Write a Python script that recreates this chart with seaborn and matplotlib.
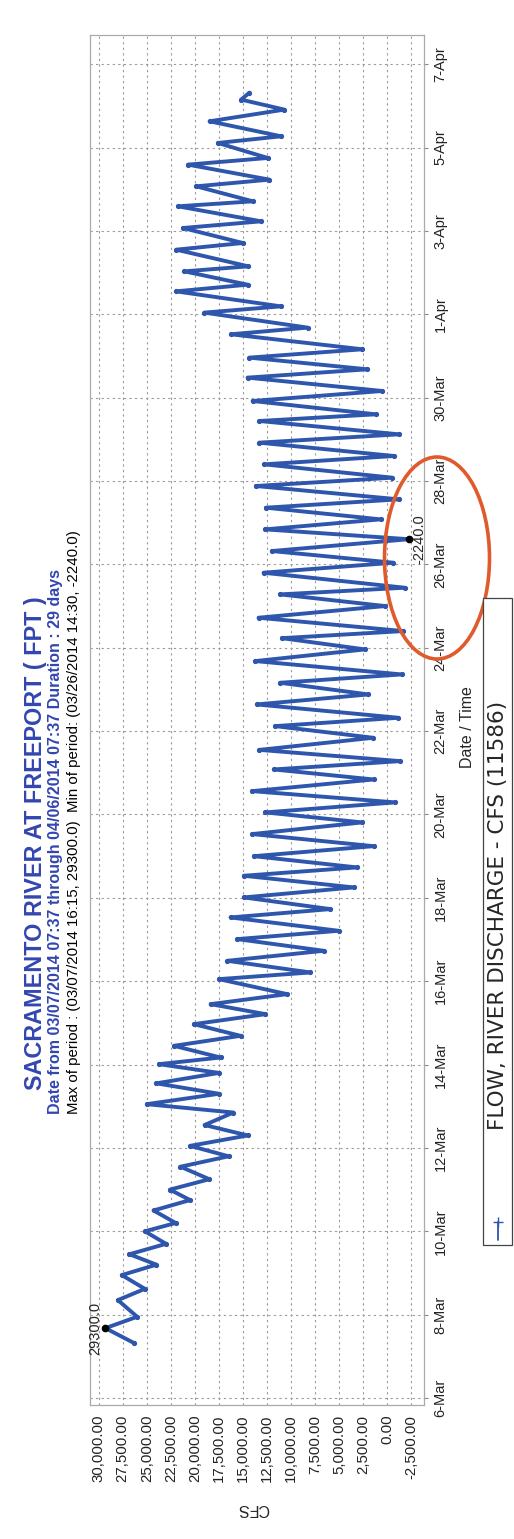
import numpy as np
import pandas as pd
import matplotlib
matplotlib.use("Agg")
import matplotlib.pyplot as plt
from matplotlib.patches import Ellipse, Rectangle
from matplotlib.lines import Line2D
import seaborn as sns

# tidal turning points: days after 06-Mar-2014 00:00, flow in CFS
days = [1.317, 1.677, 1.95, 2.35, 2.62, 2.95, 3.2, 3.45, 3.7, 4.0, 4.2, 4.5, 4.75, 5.0,
        5.25, 5.55, 5.8, 6.05, 6.3, 6.55, 6.85, 7.05, 7.3, 7.55, 7.8,
        8.01, 8.17, 8.45, 8.69, 8.97, 9.21, 9.45, 9.69, 10.05, 10.21, 10.49, 10.73,
        11.01, 11.21, 11.53, 11.73, 12.01, 12.25, 12.53, 12.73, 13.00, 13.24, 13.53,
        13.81, 14.05, 14.29, 14.56, 14.84, 15.08, 15.28, 15.55,
        15.84, 16.12, 16.32, 16.64, 16.88, 17.16, 17.36, 17.68, 17.96, 18.23, 18.40,
        18.72, 19.00, 19.28, 19.44, 19.80, 20.04, 20.32, 20.604, 20.84,
        21.08, 21.36, 21.56, 21.88, 22.08, 22.40, 22.60, 22.92, 23.12, 23.44, 23.60,
        23.92, 24.16, 24.48, 24.68, 24.96, 25.16, 25.52, 25.68, 26.04, 26.19, 26.55,
        26.71, 27.03, 27.15, 27.55, 27.71, 28.07, 28.23, 28.59, 28.71, 29.07, 29.23,
        29.59, 29.75, 30.11, 30.27, 30.63, 30.91, 31.15, 31.317]
flow = [26300, 29300, 26000, 28000, 25200, 27600, 24000, 26800, 23000, 25200, 22000, 24300,
        20500, 22600, 18500, 21500, 16500, 20500, 14500, 19000, 16000, 25000, 17500, 24000,
        17500,
        23740, 17340, 22180, 15260, 20110, 12670, 18370, 10420, 17510, 8000, 16640, 6620,
        15600, 5070, 16300, 5930, 14920, 3510, 14920, 3160, 13880, 1440, 14050,
        2640, 12670, -810, 14050, 1440, 11810, -1330, 13300,
        1470, 11660, -1130, 13570, 1980, 11140, -1470, 13730, 2330, 10970, -1650,
        13390, 250, 11140, -1800, 12870, -610, 12010, -2240, 12700,
        700, 12630, -1200, 13670, -510, 12800, -690, 13310, -1200, 13310, 1220,
        14010, 530, 14530, 2080, 14350, 2600, 16260, 8300, 19020, 11070, 21960,
        14530, 21090, 14450, 21940, 15020, 21240, 13120, 21760, 13980, 19860, 12260,
        20720, 12430, 17610, 11050, 18480, 10710, 15200, 14330]

cfs_ticks = [30000, 27500, 25000, 22500, 20000, 17500, 15000, 12500,
             10000, 7500, 5000, 2500, 0, -2500]
date_ticks = pd.date_range("2014-03-06", "2014-04-07", freq="2D")

blue = "#2f56ad"
title_blue = "#3346b0"

sns.set_style("white")
plt.rcParams['font.family'] = ['Liberation Sans', 'DejaVu Sans']

W, H = 514, 1539
fig = plt.figure(figsize=(W / 100, H / 100), dpi=100)
ax = fig.add_axes([90 / W, 1 - 1405 / H, (424 - 90) / W, (1405 - 35) / H])

t0 = pd.Timestamp("2014-03-06")
df = pd.DataFrame({"flow": flow, "time": t0 + pd.to_timedelta(days, unit="D")})

sns.lineplot(data=df, x="flow", y="time", orient="y", sort=False, estimator=None,
             color=blue, lw=2.8, marker="o", markersize=3, markeredgecolor=blue, ax=ax)
for l in ax.lines:
    l.set_solid_joinstyle("round")

ax.set_xlim(30900, -3800)
ax.set_ylim(t0 - pd.Timedelta(hours=4), t0 + pd.Timedelta(days=32.7))

ax.set_xticks(cfs_ticks)
ax.set_xticklabels([f"{v:,.2f}" for v in cfs_ticks], rotation=90, fontsize=10.8,
                   color="#222222")
ax.yaxis.tick_right()
ax.set_yticks(date_ticks)
ax.set_yticklabels([f"{d.day}-{d:%b}" for d in date_ticks], rotation=90,
                   va="center", fontsize=10.5, color="#222222")
ax.tick_params(length=3, color="#888888", pad=4)
ax.set_xlabel("")
ax.set_ylabel("")
ax.grid(True, ls=(0, (2, 3)), color="#999999", lw=0.8)
for s in ax.spines.values():
    s.set_color("#aaaaaa")
    s.set_linewidth(0.9)

# max / min markers
i_max = int(np.argmax(flow))
i_min = int(np.argmin(flow))
for i, txt, dx in [(i_max, "29300.0", -10), (i_min, "-2240.0", 10)]:
    ax.plot(df["flow"][i], df["time"][i], "o", color="black", ms=4.5)
    ax.annotate(txt, (df["flow"][i], df["time"][i]), xytext=(dx, 0),
                textcoords="offset pixels", rotation=90, ha="center", va="center",
                fontsize=10.5)

# red hand-drawn ellipse
ell = Ellipse((437 / W, 1 - 558 / H), 105 / W, 202 / H, transform=fig.transFigure,
              fill=False, ec="#e05a2b", lw=2.6)
fig.patches.append(ell)

fig.text(36 / W, 1 - 843 / H, "SACRAMENTO RIVER AT FREEPORT ( FPT )", rotation=90,
         ha="center", va="center", fontsize=16.8, fontweight="bold", color=title_blue)
fig.text(56 / W, 1 - 842 / H,
         "Date from 03/07/2014 07:37 through 04/06/2014 07:37 Duration : 29 days",
         rotation=90, ha="center", va="center", fontsize=11.5, fontweight="bold",
         color=title_blue)
fig.text(74 / W, 1 - 822 / H,
         "Max of period : (03/07/2014 16:15, 29300.0)  Min of period: (03/26/2014 14:30, -2240.0)",
         rotation=90, ha="center", va="center", fontsize=10.8, color="black")

fig.text(253 / W, 1 - 1508 / H, "CFS", rotation=180, ha="center", va="center",
         fontsize=11.5)
fig.text(467 / W, 1 - 727 / H, "Date / Time", rotation=90, ha="center", va="center",
         fontsize=11.5)

# legend box, drawn rotated like the rest of the chart
fig.patches.append(Rectangle((483 / W, 1 - 1245 / H), 29 / W, 647 / H,
                             transform=fig.transFigure, fc="white", ec="#444444", lw=0.9))
fig.text(498 / W, 1 - 915 / H, "FLOW, RIVER DISCHARGE - CFS (11586)", rotation=90,
         ha="center", va="center", fontsize=15.5, family=["DejaVu Sans"])
fig.lines.append(Line2D([498 / W, 498 / W], [1 - 1240 / H, 1 - 1222 / H],
                        transform=fig.transFigure, color=blue, lw=1.3,
                        marker="+", markevery=[1], ms=7))

fig.savefig("out.png", dpi=100)
